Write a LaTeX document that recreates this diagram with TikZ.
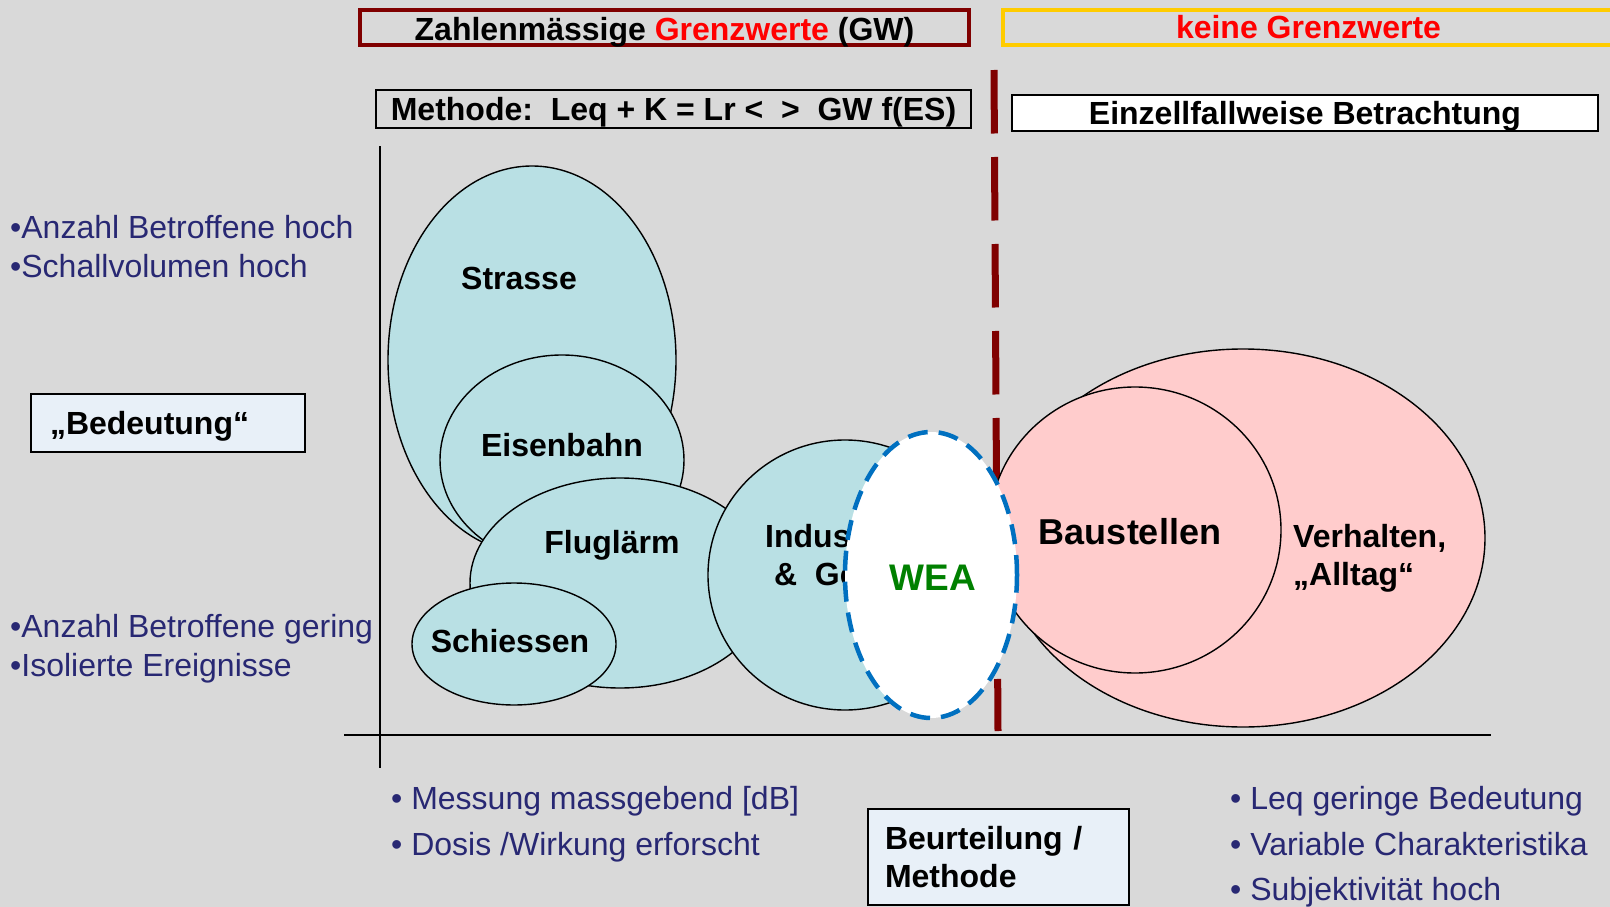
\documentclass[tikz,border=0pt]{standalone}
\usepackage{fontspec}
\setmainfont{Liberation Sans}
\usepackage{tikz}
\usetikzlibrary{shapes.geometric}
\definecolor{slidegray}{RGB}{217,217,217}
\definecolor{tealfill}{RGB}{185,224,228}
\definecolor{pinkfill}{RGB}{255,204,204}
\definecolor{darkred}{RGB}{128,0,0}
\definecolor{gold}{RGB}{255,204,0}
\definecolor{signalred}{RGB}{255,0,0}
\definecolor{weagreen}{RGB}{0,128,0}
\definecolor{weablue}{RGB}{0,112,192}
\definecolor{listblue}{RGB}{40,40,115}
\definecolor{boxblue}{RGB}{232,240,248}

\begin{document}
\begin{tikzpicture}[x=1pt, y=-1pt,
  blob/.style={ellipse, draw=black, line width=1.4pt, inner sep=0pt},
  tealblob/.style={blob, fill=tealfill},
  pinkblob/.style={blob, fill=pinkfill},
  hdr/.style={font=\fontsize{32}{38}\selectfont\bfseries},
  hdrbox/.style={hdr, text height=23pt, text depth=0pt, inner sep=0pt},
  bluelist/.style={font=\fontsize{32}{39}\selectfont, text=listblue, align=left, anchor=west, inner sep=0pt}]

  % slide background
  \fill[slidegray] (0,0) rectangle (1610,907);
  \useasboundingbox (0,0) rectangle (1610,907);

  % Header row
  \node[hdrbox, draw=darkred, line width=4pt, minimum width=609pt, minimum height=35pt] (gwbox) at (664.5,27.5)
    {\raisebox{-1.5pt}{Zahlenmässige \textcolor{signalred}{Grenzwerte} (GW)}};
  \node[hdrbox, draw=gold, line width=4pt, minimum width=611pt, minimum height=35pt, text=signalred] (keinegw) at (1308.5,27.5)
    {keine Grenzwerte};

  % Method row
  \node[hdrbox, draw=black, line width=2pt, minimum width=595pt, minimum height=38pt] (methode) at (673.5,109)
    {Methode:\ \ Leq + K = Lr <\ \ >\ \ GW f(ES)};
  \node[hdrbox, draw=black, fill=white, line width=2pt, minimum width=586pt, minimum height=36pt] (einzelfall) at (1305,113)
    {Einzellfallweise Betrachtung};

  % Divider
  \coordinate (divtop) at (994,70);
  \coordinate (divbot) at (998,731);
  \draw[darkred, line width=7pt, dash pattern=on 63.5pt off 23.5pt] (divtop) -- (divbot);

  % Axes
  \draw[line width=1.5pt] (380,146) -- (380,768);
  \draw[line width=1.5pt] (344,735) -- (1491,735);

  % Sources with limit values
  \node[tealblob, minimum width=288pt, minimum height=388pt] (strasse) at (532,360) {};
  \node[tealblob, minimum width=244pt, minimum height=210pt] (eisenbahn) at (562,460) {};
  \node[tealblob, minimum width=300pt, minimum height=210pt] (flug) at (620,583) {};
  \node[tealblob, minimum width=204pt, minimum height=122pt] (schiessen) at (514,644) {};
  \node[tealblob, minimum width=274pt, minimum height=270pt] (industrie) at (845,575) {};

  % Sources without limit values
  \node[pinkblob, minimum width=484pt, minimum height=378pt] (verhalten) at (1243,538) {};
  \node[pinkblob, minimum width=292pt, minimum height=286pt] (baustellen) at (1135,530) {};

  \node[hdr, anchor=base] (strassetxt) at (519,289) {Strasse};
  \node[hdr, anchor=base] (eisenbahntxt) at (562,456) {Eisenbahn};
  \node[hdr, anchor=base] (flugtxt) at (612,553) {Fluglärm};
  \node[hdr, anchor=base] (schiessentxt) at (510,652) {Schiessen};
  \node[hdr, anchor=west, align=left, inner sep=0pt] (industrietxt) at (765,555) {Industrie\\\ \&\ \ Gewerbe};
  \node[hdr, anchor=base, font=\fontsize{36}{40}\selectfont\bfseries] (baustellentxt) at (1130,544) {Baustellen};
  \node[hdr, anchor=west, align=left, inner sep=0pt] (verhaltentxt) at (1293,558) {Verhalten,\\„Alltag“};

  % WEA
  \node[ellipse, draw=weablue, fill=white, line width=4.5pt, dash pattern=on 20pt off 11pt, minimum width=172pt, minimum height=286pt, inner sep=0pt] (wea) at (931,575) {};
  \node[hdr, anchor=base, text=weagreen, font=\fontsize{37}{40}\selectfont\bfseries] (weatxt) at (933,590) {WEA};

  % Axis labels
  \node[hdrbox, draw=black, fill=boxblue, line width=2pt, minimum height=58pt, text width=236pt, inner xsep=19pt, align=left] (bedeutung) at (168,423)
    {„Bedeutung“};
  \node[hdr, draw=black, fill=boxblue, line width=2pt, minimum height=96pt, text width=227pt, inner xsep=17pt, align=left] (beurteilung) at (998.5,857)
    {Beurteilung /\\Methode};

  % Characteristics
  \node[bluelist] (hoch) at (10,246.5) {•Anzahl Betroffene hoch\\•Schallvolumen hoch};
  \node[bluelist] (gering) at (10,649) {•Anzahl Betroffene gering\\•Isolierte Ereignisse};
  \node[bluelist, font=\fontsize{32}{46}\selectfont] (messung) at (391,824) {• Messung massgebend [dB]\\• Dosis /Wirkung erforscht};
  \node[bluelist, font=\fontsize{32}{45.5}\selectfont] (leq) at (1230,847) {• Leq geringe Bedeutung\\• Variable Charakteristika\\• Subjektivität hoch};
\end{tikzpicture}
\end{document}
